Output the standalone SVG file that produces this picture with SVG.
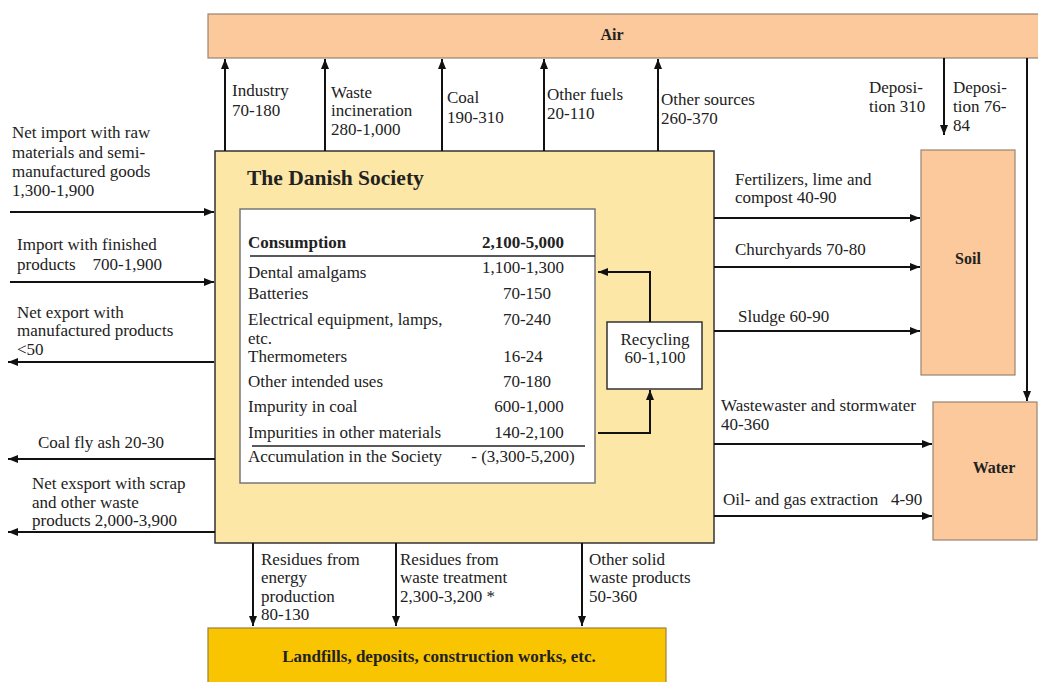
<svg xmlns="http://www.w3.org/2000/svg" width="1038" height="682" viewBox="0 0 1038 682">
<defs>
<marker id="ah" viewBox="0 0 10 10" refX="10" refY="5" markerWidth="10" markerHeight="10" markerUnits="userSpaceOnUse" orient="auto">
<path d="M0,1 L10,5 L0,9 Z" fill="#111"/>
</marker>
<style>
text{font-family:"Liberation Serif","Times New Roman",serif;fill:#222;font-size:17px;white-space:pre}
.b{font-weight:bold}
.m{text-anchor:middle}
.t{font-size:21.5px}
.s{font-size:16px}
.peach{fill:#fbc99b;stroke:#9a8470;stroke-width:1.2}
.c line,.c polyline{stroke:#111;stroke-width:2;fill:none;marker-end:url(#ah)}
.rule{stroke:#222;stroke-width:1.5}
</style>
</defs>
<rect width="1038" height="682" fill="#fff"/>

<g id="air">
<rect class="peach" x="208" y="14" width="832" height="44"/>
<text class="b m s" x="612" y="40">Air</text>
</g>

<g id="soil">
<rect class="peach" x="921" y="150" width="94" height="225"/>
<text class="b m s" x="968" y="264">Soil</text>
</g>

<g id="water">
<rect class="peach" x="933" y="402" width="104" height="138"/>
<text class="b m s" x="994" y="473">Water</text>
</g>

<g id="landfills">
<rect x="208" y="628" width="458" height="60" fill="#f9c500" stroke="#9a8040" stroke-width="1.2"/>
<text class="b m" x="439" y="662">Landfills, deposits, construction works, etc.</text>
</g>

<g id="society">
<rect x="215" y="151" width="499" height="392" fill="#fde7a6" stroke="#333" stroke-width="1.5"/>
<text class="b t" x="247" y="185">The Danish Society</text>
<rect x="240" y="209" width="355" height="274" fill="#fff" stroke="#777" stroke-width="1.5"/>
<text class="b" x="248" y="248">Consumption</text>
<text class="b m" x="523" y="248">2,100-5,000</text>
<line class="rule" x1="250" y1="256" x2="595" y2="256"/>
<text x="248" y="278">Dental amalgams</text><text class="m" x="523" y="273">1,100-1,300</text>
<text x="248" y="299">Batteries</text><text class="m" x="527" y="299">70-150</text>
<text x="248" y="325">Electrical equipment, lamps,</text><text class="m" x="527" y="325">70-240</text>
<text x="248" y="344">etc.</text>
<text x="248" y="362">Thermometers</text><text class="m" x="523" y="362">16-24</text>
<text x="248" y="387">Other intended uses</text><text class="m" x="527" y="387">70-180</text>
<text x="248" y="412">Impurity in coal</text><text class="m" x="529" y="412">600-1,000</text>
<text x="248" y="438">Impurities in other materials</text><text class="m" x="529" y="438">140-2,100</text>
<line class="rule" x1="252" y1="446" x2="585" y2="446"/>
<text x="248" y="462">Accumulation in the Society</text><text class="m" x="523" y="462">- (3,300-5,200)</text>
</g>

<g id="recycling">
<rect x="607" y="322" width="95" height="67" fill="#fff" stroke="#333" stroke-width="1.5"/>
<text class="m" x="655" y="345">Recycling</text>
<text class="m" x="655" y="363">60-1,100</text>
</g>

<g id="connectors" class="c">
<polyline points="650,322 650,272 598,272"/>
<polyline points="598,433 650,433 650,390"/>
<line x1="225" y1="151" x2="225" y2="59"/>
<line x1="325" y1="151" x2="325" y2="59"/>
<line x1="442" y1="151" x2="442" y2="59"/>
<line x1="544" y1="151" x2="544" y2="59"/>
<line x1="658" y1="151" x2="658" y2="59"/>
<line x1="944" y1="58" x2="944" y2="135"/>
<line x1="1027" y1="58" x2="1027" y2="401"/>
<line x1="10" y1="212" x2="214" y2="212"/>
<line x1="10" y1="282" x2="214" y2="282"/>
<line x1="214" y1="362" x2="8" y2="362"/>
<line x1="215" y1="459" x2="8" y2="459"/>
<line x1="215" y1="532" x2="8" y2="532"/>
<line x1="714" y1="218" x2="920" y2="218"/>
<line x1="714" y1="267" x2="920" y2="267"/>
<line x1="714" y1="331" x2="920" y2="331"/>
<line x1="714" y1="444" x2="932" y2="444"/>
<line x1="714" y1="516" x2="932" y2="516"/>
<line x1="253" y1="543" x2="253" y2="626"/>
<line x1="396" y1="543" x2="396" y2="626"/>
<line x1="582" y1="543" x2="582" y2="626"/>
</g>

<g id="labels">
<text x="232" y="96">Industry</text><text x="232" y="116">70-180</text>
<text x="331" y="98">Waste</text><text x="331" y="116">incineration</text><text x="331" y="135">280-1,000</text>
<text x="447" y="103">Coal</text><text x="447" y="123">190-310</text>
<text x="547" y="100">Other fuels</text><text x="547" y="119">20-110</text>
<text x="661" y="105">Other sources</text><text x="661" y="124">260-370</text>
<text x="869" y="93">Deposi-</text><text x="869" y="112">tion 310</text>
<text x="953" y="93">Deposi-</text><text x="953" y="112">tion 76-</text><text x="953" y="131">84</text>

<text x="12" y="138">Net import with raw</text>
<text x="12" y="158">materials and semi-</text>
<text x="12" y="177">manufactured goods</text>
<text x="12" y="196">1,300-1,900</text>
<text x="17" y="250">Import with finished</text>
<text x="17" y="270">products    700-1,900</text>
<text x="17" y="318">Net export with</text>
<text x="17" y="336">manufactured products</text>
<text x="17" y="355">&lt;50</text>
<text x="38" y="448">Coal fly ash 20-30</text>
<text x="32" y="489">Net exsport with scrap</text>
<text x="32" y="508">and other waste</text>
<text x="32" y="526">products 2,000-3,900</text>

<text x="735" y="185">Fertilizers, lime and</text>
<text x="735" y="203">compost 40-90</text>
<text x="735" y="255">Churchyards 70-80</text>
<text x="738" y="322">Sludge 60-90</text>
<text x="721" y="411">Wastewaster and stormwater</text>
<text x="721" y="430">40-360</text>
<text x="723" y="505">Oil- and gas extraction   4-90</text>

<text x="261" y="565">Residues from</text><text x="261" y="583">energy</text><text x="261" y="602">production</text><text x="261" y="620">80-130</text>
<text x="400" y="565">Residues from</text><text x="400" y="583">waste treatment</text><text x="400" y="602">2,300-3,200 *</text>
<text x="589" y="565">Other solid</text><text x="589" y="583">waste products</text><text x="589" y="602">50-360</text>
</g>
</svg>
